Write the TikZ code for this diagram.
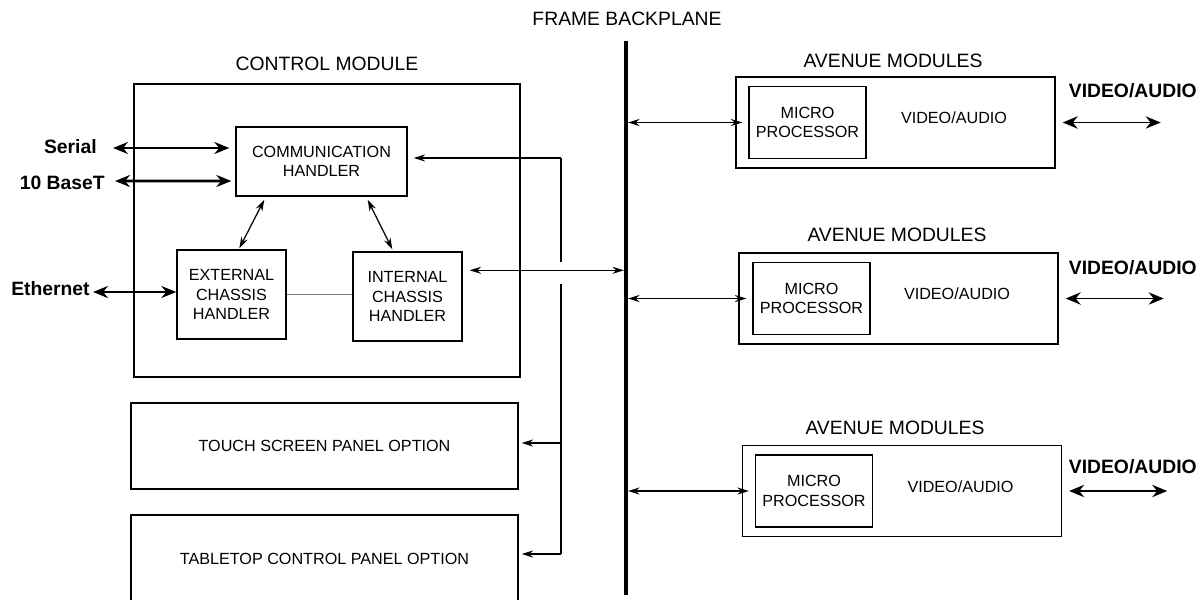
\documentclass[tikz,border=0pt]{standalone}
\usepackage{fontspec}
\setmainfont{Liberation Sans}
\usetikzlibrary{arrows.meta,calc}

\tikzset{
  box/.style={draw, line width=0.8pt, align=center, inner sep=0pt,
    font=\fontsize{9.2}{11}\selectfont},
  txt/.style={inner sep=0pt, font=\fontsize{9.2}{11}\selectfont},
  head/.style={inner sep=0pt, font=\fontsize{11}{13}\selectfont},
  tag/.style={inner sep=0pt, font=\fontsize{11}{13}\selectfont\bfseries},
  link/.style={line width=0.7pt, {Stealth[length=6.5pt,width=4pt]}-{Stealth[length=6.5pt,width=4pt]}},
  feed/.style={line width=0.7pt, -{Stealth[length=6.5pt,width=4pt]}},
  bigarrow/.style={line width=1.7pt, {Stealth[length=8.5pt,width=6.8pt]}-{Stealth[length=8.5pt,width=6.8pt]}},
  signal/.style={line width=1.1pt, {Stealth[length=8.5pt,width=7pt]}-{Stealth[length=8.5pt,width=7pt]}},
}

\begin{document}
\begin{tikzpicture}[x=0.02cm, y=-0.02cm]
  \useasboundingbox (0,0) rectangle (1204,599);

  % frame backplane
  \coordinate (bpt) at (626,41);
  \coordinate (bpb) at (626,595);
  \draw[line width=2.3pt] (bpt) -- (bpb);
  \node[head] (bplbl) at (627,19) {FRAME BACKPLANE};

  % control module
  \node[box, minimum width=7.72cm, minimum height=5.86cm] (ctrl) at (327,230.5) {};
  \node[head] (ctrllbl) at (327,64) {CONTROL MODULE};
  \node[box, minimum width=3.42cm, minimum height=1.38cm] (comm) at (321.5,161.5) {COMMUNICATION\\HANDLER};
  \node[box, minimum width=2.18cm, minimum height=1.78cm] (ext) at (231.5,294.5) {EXTERNAL\\CHASSIS\\HANDLER};
  \node[box, minimum width=2.18cm, minimum height=1.78cm] (int) at (407.5,296.5) {INTERNAL\\CHASSIS\\HANDLER};
  \draw[gray, line width=0.6pt] (ext.east) -- (ext.east -| int.west);
  \draw[link] ($(comm.south west)+(29,3)$) -- ($(ext.north west)+(63,-1)$);
  \draw[link] ($(comm.south east)+(-40,3)$) -- ($(int.north west)+(40,-2)$);

  % outside ports
  \node[tag, anchor=east] (serial) at (97,147) {Serial};
  \node[tag, anchor=east] (baset) at (105,183) {10 BaseT};
  \node[tag, anchor=east] (ether) at (90,289) {Ethernet};
  \draw[bigarrow] ($(serial.east)+(16,1)$) -- ($(comm.west)+(-6,-13.5)$);
  \draw[bigarrow] ($(baset.east)+(10,-2)$) -- ($(comm.west)+(-4,19.5)$);
  \draw[bigarrow] ($(ether.east)+(3,3)$) -- ($(ext.west)+(0,-2.5)$);

  % option panels
  \node[box, minimum width=7.74cm, minimum height=1.72cm] (touch) at (324.5,446) {TOUCH SCREEN PANEL OPTION};
  \node[box, minimum width=7.74cm, minimum height=1.74cm] (table) at (324.5,558.5) {TABLETOP CONTROL PANEL OPTION};

  % panel bus
  \coordinate (tap) at (561,158);
  \coordinate (tapend) at (561,554);
  \draw[line width=0.7pt] (tap) -- (tapend);
  \draw[feed] (tap) -- ($(comm.east)+(6,-3.5)$);
  \draw[feed] ($(touch.east)+(43,-3)$) -- ($(touch.east)+(3,-3)$);
  \draw[feed] (tapend) -- ($(table.east)+(3,-4.5)$);

  % crossing to backplane
  \fill[white] (555,262) rectangle (567,284);
  \draw[link, shorten >=1.2pt] ($(int.north east)+(7,19)$) coordinate (intout) -- (intout -| bpt);

  % avenue modules
  \foreach \i/\bx/\by/\mx/\lx/\ly/\ty in {1/895.5/122.5/807.5/893/61/91,
      2/898.5/298.5/811.5/897/235/268, 3/902/491/814/895/428/467} {
    \node[box, minimum width=6.38cm, minimum height=1.82cm] (av\i) at (\bx,\by) {};
    \node[head] (avlbl\i) at (\lx,\ly) {AVENUE MODULES};
    \node[box, minimum width=2.34cm, minimum height=1.44cm] (mp\i) at (\mx,\by) {MICRO\\PROCESSOR};
    \node[txt] (va\i) at ($(av\i.center)+(58.5,-4.5)$) {VIDEO/AUDIO};
    \node[tag, anchor=east] (tag\i) at (1197,\ty) {VIDEO/AUDIO};
    \coordinate (out\i) at ($(av\i.east)+(105,0)$);
    \draw[signal] ($(av\i.east)+(7,0)$) -- (out\i);
    \draw[link, shorten <=1.2pt, shorten >=3.4pt] (mp\i.west -| bpt) -- (mp\i.west);
  }
\end{tikzpicture}
\end{document}
